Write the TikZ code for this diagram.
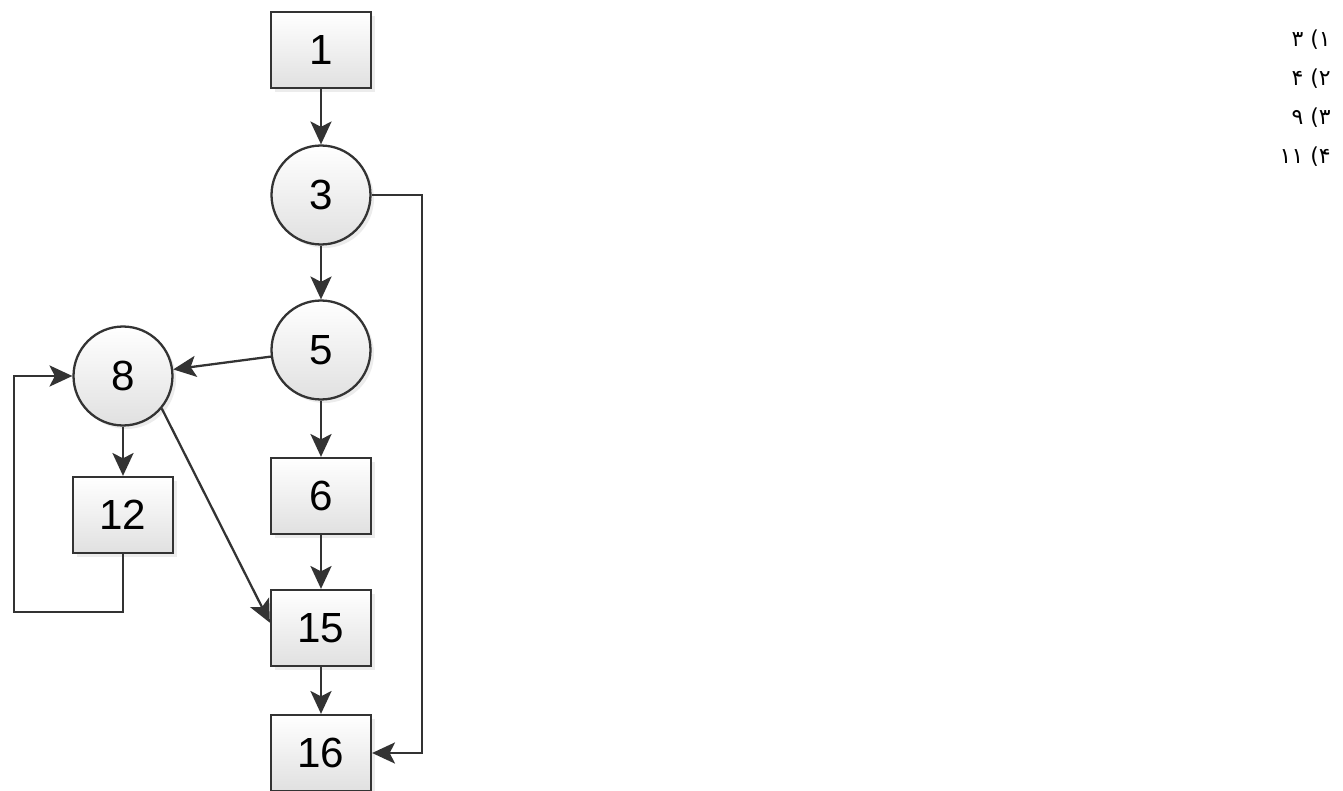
\documentclass[tikz,border=0pt]{standalone}
\usepackage{fontspec}
\setmainfont{Liberation Sans}
\newfontfamily\persianfont[Script=Arabic]{DejaVu Sans}
\TeXXeTstate=1
\usetikzlibrary{arrows.meta,shadows}

\tikzset{
  block/.style={draw=black!80, line width=1.3pt, minimum width=2cm, minimum height=1.52cm,
    top color=white, bottom color=black!12, drop shadow={opacity=.15, shadow xshift=2pt, shadow yshift=-2pt},
    font=\fontsize{24}{28}\selectfont, inner sep=0pt},
  decision/.style={block, circle, minimum size=1.98cm, minimum height=1.98cm},
  flow/.style={draw=black!80, line width=1.3pt, -{Stealth[length=13pt,width=12pt,inset=3pt]}},
  choice/.style={anchor=east, font=\persianfont\fontsize{12.5}{14}\selectfont, inner sep=0pt}
}

\begin{document}
\begin{tikzpicture}[x=0.02cm, y=-0.02cm]

    \useasboundingbox (0,0) rectangle (1343,791);

    % Blocks and decisions
    \node[block] (n1) at (321,50) {1};
    \node[decision] (n3) at (321,195) {3};
    \node[decision] (n5) at (321,350) {5};
    \node[decision] (n8) at (123,376) {8};
    \node[block] (n12) at (123,515) {12};
    \node[block] (n6) at (321,496) {6};
    \node[block] (n15) at (321,628) {15};
    \node[block] (n16) at (321,753) {16};

    \coordinate (skip) at (422,195);
    \coordinate (loop) at (14,612);

    % Edges
    \draw[flow] (n1) -- (n3);
    \draw[flow] (n3) -- (n5);
    \draw[flow] (n5) -- (n8);
    \draw[flow] (n5) -- (n6);
    \draw[flow] (n6) -- (n15);
    \draw[flow] (n15) -- (n16);
    \draw[flow] (n8) -- (n12);
    \draw[flow] (n8.-40) -- ([yshift=3pt]n15.west);
    \draw[flow] (n3.east) -- (skip) |- (n16.east);
    \draw[flow] (n12.south) |- (loop) |- (n8.west);

    % Choices
    \node[choice] (c1) at (1331,40) {\beginR ۱) ۳\endR};
    \node[choice] (c2) at (1331,79) {\beginR ۲) ۴\endR};
    \node[choice] (c3) at (1331,118) {\beginR ۳) ۹\endR};
    \node[choice] (c4) at (1331,157) {\beginR ۴) ۱۱\endR};

\end{tikzpicture}
\end{document}
